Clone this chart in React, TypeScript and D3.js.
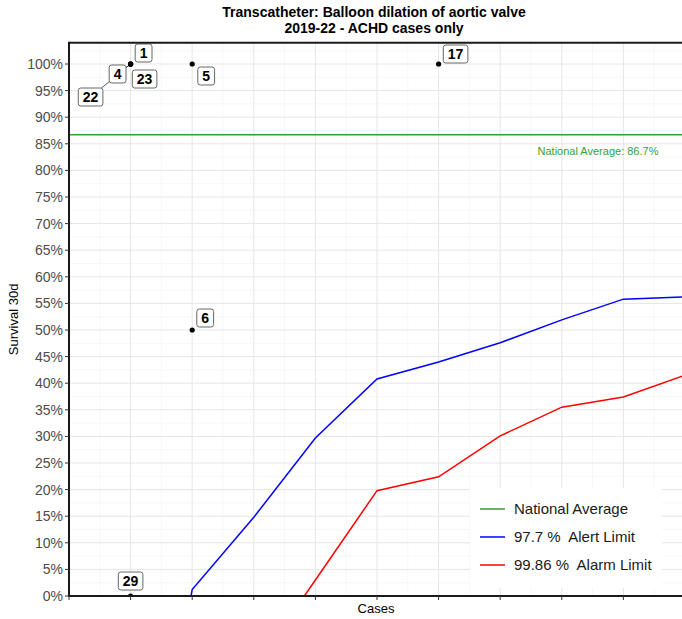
import React from "react";
import * as d3 from "d3";

// ---- data ----
const hospitalIds = ["1", "23", "4", "22", "29", "5", "6", "17"];
const hospitalCases = [1, 1, 1, 1, 1, 2, 2, 6];
const hospitalSurvival = [1, 1, 1, 1, 0, 1, 0.5, 1];

const limitCases = [1, 2, 3, 4, 5, 6, 7, 8, 9, 10];
const alertLimit = [-0.6, 0.012, 0.148, 0.297, 0.408, 0.44, 0.476, 0.519, 0.558, 0.562];
const alarmLimit = [-0.6, -0.3, -0.137, 0.03, 0.198, 0.224, 0.301, 0.355, 0.374, 0.415];

const nationalAverage = 0.867;

const yTicks = [0, 0.05, 0.1, 0.15, 0.2, 0.25, 0.3, 0.35, 0.4, 0.45, 0.5, 0.55, 0.6, 0.65, 0.7, 0.75, 0.8, 0.85, 0.9, 0.95, 1];
const xTicks = [0, 1, 2, 3, 4, 5, 6, 7, 8, 9, 10];

const titleLines = ["Transcatheter: Balloon dilation of aortic valve", "2019-22 - ACHD cases only"];
const legendLabels = ["National Average", "97.7 %  Alert Limit", "99.86 %  Alarm Limit"];

// label placement (repel-style offsets in px) - layout, not data
const labelDx = [13, 14, -13, -40, 0, 14, 13, 17];
const labelDy = [-11, 15, 10, 33, -15, 12, -12, -10];
const labelSegment = [false, false, true, true, false, false, false, false];

const W = 682;
const H = 619;
const FONT = "'Liberation Sans', Arial, Helvetica, sans-serif";
const GREEN = "#33a133";

export default function App() {
  const x = d3.scaleLinear().domain([0, 10]).range([69, 685]);
  const y = d3.scaleLinear().domain([0, 1]).range([596, 64]);
  const left = 69;
  const right = 700;
  const top = y(1.04);
  const bottom = y(0);

  const line = d3
    .line<number>()
    .x((_, i) => x(limitCases[i]))
    .y((d) => y(d));

  const majorX = xTicks;
  const minorX = d3.range(0.5, 11, 1);
  const majorY = yTicks;
  const minorY = d3.range(0.025, 1.05, 0.05);

  const fmt = d3.format(".0%");

  const labels = hospitalIds.map((id, i) => {
    const px = x(hospitalCases[i]);
    const py = y(hospitalSurvival[i]);
    const cx = px + labelDx[i];
    const cy = py + labelDy[i];
    const w = id.length * 7.8 + 9;
    const h = 18;
    return { id, px, py, cx, cy, w, h, seg: labelSegment[i] };
  });

  return (
    <svg
      width={W}
      height={H}
      style={{ position: "absolute", left: 0, top: 0, background: "#fff", overflow: "hidden" }}
      fontFamily={FONT}
    >
      <defs>
        <clipPath id="panel">
          <rect x={left} y={top} width={right - left} height={bottom - top} />
        </clipPath>
      </defs>
      <rect x={0} y={0} width={W} height={H} fill="#fff" />
      {/* title */}
      {titleLines.map((t, i) => (
        <text key={t} x={374} y={17 + i * 16} textAnchor="middle" fontSize={14} fontWeight="bold" fill="#000">
          {t}
        </text>
      ))}
      {/* grid */}
      <g clipPath="url(#panel)">
        {minorY.map((v) => (
          <line key={"my" + v} x1={left} x2={right} y1={y(v)} y2={y(v)} stroke="#f2f2f2" strokeWidth={0.6} />
        ))}
        {minorX.map((v) => (
          <line key={"mx" + v} x1={x(v)} x2={x(v)} y1={top} y2={bottom} stroke="#f2f2f2" strokeWidth={0.6} />
        ))}
        {majorY.map((v) => (
          <line key={"gy" + v} x1={left} x2={right} y1={y(v)} y2={y(v)} stroke="#e6e6e6" strokeWidth={1} />
        ))}
        {majorX.map((v) => (
          <line key={"gx" + v} x1={x(v)} x2={x(v)} y1={top} y2={bottom} stroke="#e6e6e6" strokeWidth={1} />
        ))}
        {/* national average */}
        <line x1={left} x2={right} y1={y(nationalAverage)} y2={y(nationalAverage)} stroke={GREEN} strokeWidth={1.5} />
        <text x={598} y={y(nationalAverage) + 20} textAnchor="middle" fontSize={11} fill={GREEN}>
          {"National Average: " + d3.format(".1%")(nationalAverage)}
        </text>
        {/* limits */}
        <path d={line(alertLimit) || ""} fill="none" stroke="#0000ff" strokeWidth={1.5} />
        <path d={line(alarmLimit) || ""} fill="none" stroke="#ff0000" strokeWidth={1.5} />
        {/* segments */}
        {labels.filter((l) => l.seg).map((l) => (
          <line key={"s" + l.id} x1={l.px} y1={l.py} x2={l.cx} y2={l.cy} stroke="#333" strokeWidth={0.8} />
        ))}
        {/* points */}
        {labels.map((l) => (
          <circle key={"p" + l.id} cx={l.px} cy={l.py} r={2.6} fill="#000" />
        ))}
        {/* label boxes */}
        {labels.map((l) => (
          <g key={"l" + l.id}>
            <rect
              x={l.cx - l.w / 2}
              y={l.cy - l.h / 2}
              width={l.w}
              height={l.h}
              rx={2.5}
              fill="#fff"
              stroke="#666"
              strokeWidth={1}
            />
            <text x={l.cx} y={l.cy + 5} textAnchor="middle" fontSize={14} fontWeight="bold" fill="#000">
              {l.id}
            </text>
          </g>
        ))}
        {/* legend */}
        <rect x={470} y={488} width={192} height={100} fill="#fff" />
        {legendLabels.map((t, i) => {
          const yy = 509 + i * 28;
          const c = [GREEN, "#0000ff", "#ff0000"][i];
          return (
            <g key={t}>
              <line x1={480} x2={505} y1={yy} y2={yy} stroke={c} strokeWidth={1.5} />
              <text x={514} y={yy + 5} fontSize={15} fill="#1a1a1a" style={{ whiteSpace: "pre" }}>
                {t}
              </text>
            </g>
          );
        })}
      </g>
      {/* panel border */}
      <line x1={left} x2={right} y1={top} y2={top} stroke="#1a1a1a" strokeWidth={2} />
      <line x1={left} x2={left} y1={top - 1} y2={bottom + 1} stroke="#1a1a1a" strokeWidth={2} />
      <line x1={left} x2={right} y1={bottom} y2={bottom} stroke="#1a1a1a" strokeWidth={2} />
      {/* y axis */}
      {yTicks.map((v) => (
        <g key={"yt" + v}>
          <line x1={left - 4} x2={left} y1={y(v)} y2={y(v)} stroke="#333" strokeWidth={1} />
          <text x={left - 6} y={y(v) + 5} textAnchor="end" fontSize={14} fill="#4d4d4d">
            {fmt(v)}
          </text>
        </g>
      ))}
      {/* x axis ticks */}
      {xTicks.map((v) => (
        <line key={"xt" + v} x1={x(v)} x2={x(v)} y1={bottom} y2={bottom + 4} stroke="#333" strokeWidth={1} />
      ))}
      <text x={376} y={613} textAnchor="middle" fontSize={13} fill="#000">
        Cases
      </text>
      <text transform={`translate(18, ${(top + bottom) / 2}) rotate(-90)`} textAnchor="middle" fontSize={13} fill="#000">
        Survival 30d
      </text>
    </svg>
  );
}
